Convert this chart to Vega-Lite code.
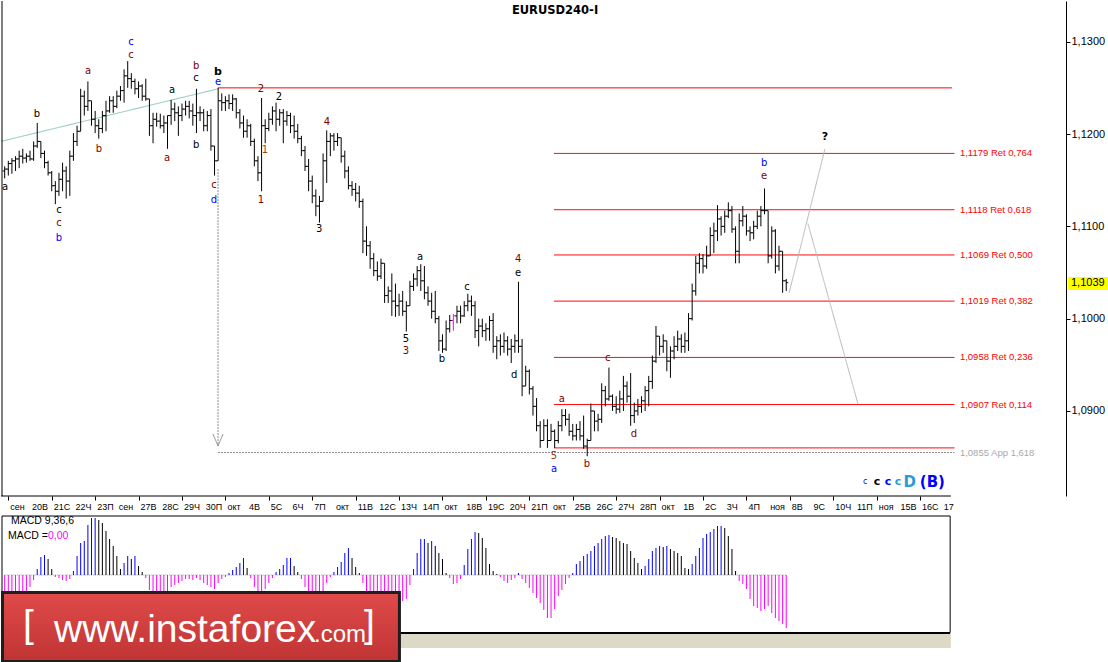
{
"$schema":"https://vega.github.io/schema/vega-lite/v6.json",
"background":"#ffffff",
"padding":0,
"bounds":"flush",
"spacing":20,
"config":{"view":{"stroke":null},"font":"Liberation Sans"},
"datasets":{
"bars":[
{"n":-1,"o":1.1160,"h":1.1165,"l":1.1152,"c":1.1162,"m":-0.0011,"d":"g"},
{"n":0,"o":1.1162,"h":1.1171,"l":1.1155,"c":1.1168,"m":-0.001,"d":"g"},
{"n":1,"o":1.1168,"h":1.1174,"l":1.1157,"c":1.1171,"m":-0.001,"d":"g"},
{"n":2,"o":1.1171,"h":1.1176,"l":1.1160,"c":1.1173,"m":-0.0009,"d":"g"},
{"n":3,"o":1.1173,"h":1.1182,"l":1.1163,"c":1.1176,"m":-0.00085,"d":"g"},
{"n":4,"o":1.1176,"h":1.1184,"l":1.1168,"c":1.1174,"m":-0.0008,"d":"g"},
{"n":5,"o":1.1174,"h":1.1179,"l":1.1169,"c":1.1176,"m":-0.0008,"d":"g"},
{"n":6,"o":1.1176,"h":1.1182,"l":1.1171,"c":1.1173,"m":-0.0006,"d":"g"},
{"n":7,"o":1.1173,"h":1.1192,"l":1.1171,"c":1.1187,"m":-0.00025,"d":"g"},
{"n":8,"o":1.1187,"h":1.1212,"l":1.1185,"c":1.1192,"m":0.0003,"d":"u"},
{"n":9,"o":1.1192,"h":1.1192,"l":1.1174,"c":1.1179,"m":0.0009,"d":"u"},
{"n":10,"o":1.1179,"h":1.1182,"l":1.1163,"c":1.1169,"m":0.001,"d":"u"},
{"n":11,"o":1.1169,"h":1.1171,"l":1.1155,"c":1.1158,"m":0.0008,"d":"w"},
{"n":12,"o":1.1158,"h":1.1160,"l":1.1138,"c":1.1144,"m":0.0003,"d":"w"},
{"n":13,"o":1.1144,"h":1.1149,"l":1.1124,"c":1.1138,"m":-0.0001,"d":"g"},
{"n":14,"o":1.1138,"h":1.1158,"l":1.1133,"c":1.1151,"m":-0.00015,"d":"g"},
{"n":15,"o":1.1151,"h":1.1169,"l":1.1138,"c":1.1160,"m":-0.00025,"d":"g"},
{"n":16,"o":1.1160,"h":1.1165,"l":1.1130,"c":1.1149,"m":-0.0003,"d":"g"},
{"n":17,"o":1.1149,"h":1.1182,"l":1.1133,"c":1.1176,"m":-0.0002,"d":"g"},
{"n":18,"o":1.1176,"h":1.1201,"l":1.1171,"c":1.1192,"m":0.0002,"d":"u"},
{"n":19,"o":1.1192,"h":1.1209,"l":1.1187,"c":1.1203,"m":0.00095,"d":"u"},
{"n":20,"o":1.1203,"h":1.1249,"l":1.1203,"c":1.1241,"m":0.0016,"d":"u"},
{"n":21,"o":1.1241,"h":1.1247,"l":1.1220,"c":1.1230,"m":0.0017,"d":"u"},
{"n":22,"o":1.1230,"h":1.1257,"l":1.1225,"c":1.1236,"m":0.0025,"d":"u"},
{"n":23,"o":1.1236,"h":1.1236,"l":1.1209,"c":1.1216,"m":0.00285,"d":"u"},
{"n":24,"o":1.1216,"h":1.1225,"l":1.1201,"c":1.1209,"m":0.00285,"d":"u"},
{"n":25,"o":1.1209,"h":1.1216,"l":1.1195,"c":1.1206,"m":0.00275,"d":"w"},
{"n":26,"o":1.1206,"h":1.1225,"l":1.1201,"c":1.1220,"m":0.0026,"d":"w"},
{"n":27,"o":1.1220,"h":1.1236,"l":1.1203,"c":1.1225,"m":0.0022,"d":"w"},
{"n":28,"o":1.1225,"h":1.1241,"l":1.1223,"c":1.1236,"m":0.0018,"d":"w"},
{"n":29,"o":1.1236,"h":1.1241,"l":1.1223,"c":1.1230,"m":0.00145,"d":"w"},
{"n":30,"o":1.1230,"h":1.1247,"l":1.1228,"c":1.1241,"m":0.00095,"d":"w"},
{"n":31,"o":1.1241,"h":1.1252,"l":1.1236,"c":1.1247,"m":0.0003,"d":"w"},
{"n":32,"o":1.1247,"h":1.1270,"l":1.1234,"c":1.1263,"m":0.0006,"d":"u"},
{"n":33,"o":1.1263,"h":1.1279,"l":1.1250,"c":1.1260,"m":0.00095,"d":"u"},
{"n":34,"o":1.1260,"h":1.1266,"l":1.1249,"c":1.1257,"m":0.0008,"d":"w"},
{"n":35,"o":1.1257,"h":1.1260,"l":1.1243,"c":1.1249,"m":0.00095,"d":"u"},
{"n":36,"o":1.1249,"h":1.1257,"l":1.1239,"c":1.1252,"m":0.00045,"d":"w"},
{"n":37,"o":1.1252,"h":1.1254,"l":1.1236,"c":1.1241,"m":0.00015,"d":"w"},
{"n":38,"o":1.1241,"h":1.1260,"l":1.1236,"c":1.1238,"m":-0.00015,"d":"g"},
{"n":39,"o":1.1238,"h":1.1238,"l":1.1198,"c":1.1209,"m":-0.00075,"d":"g"},
{"n":40,"o":1.1209,"h":1.1223,"l":1.1190,"c":1.1216,"m":-0.0011,"d":"g"},
{"n":41,"o":1.1216,"h":1.1223,"l":1.1208,"c":1.1214,"m":-0.0012,"d":"g"},
{"n":42,"o":1.1214,"h":1.1222,"l":1.1206,"c":1.1209,"m":-0.0011,"d":"g"},
{"n":43,"o":1.1209,"h":1.1220,"l":1.1201,"c":1.1212,"m":-0.001,"d":"g"},
{"n":44,"o":1.1212,"h":1.1220,"l":1.1184,"c":1.1220,"m":-0.0009,"d":"g"},
{"n":45,"o":1.1220,"h":1.1237,"l":1.1210,"c":1.1227,"m":-0.0006,"d":"g"},
{"n":46,"o":1.1227,"h":1.1234,"l":1.1214,"c":1.1223,"m":-0.0005,"d":"g"},
{"n":47,"o":1.1223,"h":1.1230,"l":1.1198,"c":1.1220,"m":-0.0004,"d":"g"},
{"n":48,"o":1.1220,"h":1.1233,"l":1.1214,"c":1.1227,"m":-0.0003,"d":"g"},
{"n":49,"o":1.1227,"h":1.1236,"l":1.1220,"c":1.1230,"m":-0.0002,"d":"g"},
{"n":50,"o":1.1230,"h":1.1236,"l":1.1217,"c":1.1225,"m":-0.0002,"d":"g"},
{"n":51,"o":1.1225,"h":1.1233,"l":1.1209,"c":1.1220,"m":-0.00025,"d":"g"},
{"n":52,"o":1.1220,"h":1.1249,"l":1.1201,"c":1.1223,"m":-0.00015,"d":"g"},
{"n":53,"o":1.1223,"h":1.1230,"l":1.1214,"c":1.1223,"m":-0.00025,"d":"g"},
{"n":54,"o":1.1223,"h":1.1227,"l":1.1203,"c":1.1209,"m":-0.0004,"d":"g"},
{"n":55,"o":1.1209,"h":1.1225,"l":1.1203,"c":1.1220,"m":-0.0005,"d":"g"},
{"n":56,"o":1.1220,"h":1.1227,"l":1.1182,"c":1.1187,"m":-0.0006,"d":"g"},
{"n":57,"o":1.1187,"h":1.1187,"l":1.1155,"c":1.1171,"m":-0.0007,"d":"g"},
{"n":58,"o":1.1171,"h":1.1250,"l":1.1171,"c":1.1236,"m":-0.0004,"d":"g"},
{"n":59,"o":1.1236,"h":1.1244,"l":1.1225,"c":1.1234,"m":-0.0002,"d":"g"},
{"n":60,"o":1.1234,"h":1.1241,"l":1.1225,"c":1.1236,"m":-0.0001,"d":"g"},
{"n":61,"o":1.1236,"h":1.1243,"l":1.1227,"c":1.1233,"m":0.0001,"d":"u"},
{"n":62,"o":1.1233,"h":1.1243,"l":1.1225,"c":1.1238,"m":0.00025,"d":"u"},
{"n":63,"o":1.1238,"h":1.1239,"l":1.1217,"c":1.1223,"m":0.0004,"d":"u"},
{"n":64,"o":1.1223,"h":1.1227,"l":1.1206,"c":1.1212,"m":0.0006,"d":"u"},
{"n":65,"o":1.1212,"h":1.1220,"l":1.1196,"c":1.1203,"m":0.00085,"d":"u"},
{"n":66,"o":1.1203,"h":1.1216,"l":1.1196,"c":1.1209,"m":0.00035,"d":"w"},
{"n":67,"o":1.1209,"h":1.1211,"l":1.1187,"c":1.1192,"m":-0.00015,"d":"g"},
{"n":68,"o":1.1192,"h":1.1195,"l":1.1165,"c":1.1171,"m":-0.0006,"d":"g"},
{"n":69,"o":1.1171,"h":1.1176,"l":1.1149,"c":1.1158,"m":-0.0009,"d":"g"},
{"n":70,"o":1.1158,"h":1.1239,"l":1.1138,"c":1.1209,"m":-0.0008,"d":"g"},
{"n":71,"o":1.1209,"h":1.1216,"l":1.1190,"c":1.1206,"m":-0.0007,"d":"g"},
{"n":72,"o":1.1206,"h":1.1223,"l":1.1203,"c":1.1216,"m":-0.0004,"d":"g"},
{"n":73,"o":1.1216,"h":1.1230,"l":1.1210,"c":1.1225,"m":-0.00015,"d":"g"},
{"n":74,"o":1.1225,"h":1.1234,"l":1.1203,"c":1.1216,"m":0.00015,"d":"u"},
{"n":75,"o":1.1216,"h":1.1227,"l":1.1209,"c":1.1223,"m":0.0003,"d":"u"},
{"n":76,"o":1.1223,"h":1.1227,"l":1.1190,"c":1.1214,"m":0.0005,"d":"u"},
{"n":77,"o":1.1214,"h":1.1225,"l":1.1209,"c":1.1220,"m":0.00085,"d":"u"},
{"n":78,"o":1.1220,"h":1.1223,"l":1.1201,"c":1.1209,"m":0.00085,"d":"u"},
{"n":79,"o":1.1209,"h":1.1220,"l":1.1195,"c":1.1203,"m":0.00045,"d":"w"},
{"n":80,"o":1.1203,"h":1.1211,"l":1.1190,"c":1.1195,"m":0.00015,"d":"w"},
{"n":81,"o":1.1195,"h":1.1198,"l":1.1176,"c":1.1182,"m":-0.0002,"d":"g"},
{"n":82,"o":1.1182,"h":1.1187,"l":1.1160,"c":1.1165,"m":-0.0006,"d":"g"},
{"n":83,"o":1.1165,"h":1.1173,"l":1.1138,"c":1.1149,"m":-0.0009,"d":"g"},
{"n":84,"o":1.1149,"h":1.1155,"l":1.1125,"c":1.1133,"m":-0.00125,"d":"g"},
{"n":85,"o":1.1133,"h":1.1140,"l":1.1111,"c":1.1122,"m":-0.0015,"d":"g"},
{"n":86,"o":1.1122,"h":1.1133,"l":1.1104,"c":1.1127,"m":-0.0014,"d":"g"},
{"n":87,"o":1.1127,"h":1.1179,"l":1.1127,"c":1.1171,"m":-0.0009,"d":"g"},
{"n":88,"o":1.1171,"h":1.1204,"l":1.1147,"c":1.1192,"m":-0.0004,"d":"g"},
{"n":89,"o":1.1192,"h":1.1201,"l":1.1176,"c":1.1198,"m":-0.0001,"d":"g"},
{"n":90,"o":1.1198,"h":1.1201,"l":1.1182,"c":1.1192,"m":0.00015,"d":"u"},
{"n":91,"o":1.1192,"h":1.1201,"l":1.1187,"c":1.1196,"m":0.0004,"d":"u"},
{"n":92,"o":1.1196,"h":1.1196,"l":1.1169,"c":1.1176,"m":0.00065,"d":"u"},
{"n":93,"o":1.1176,"h":1.1182,"l":1.1152,"c":1.1160,"m":0.0011,"d":"u"},
{"n":94,"o":1.1160,"h":1.1165,"l":1.1140,"c":1.1144,"m":0.00135,"d":"u"},
{"n":95,"o":1.1144,"h":1.1149,"l":1.1133,"c":1.1140,"m":0.00085,"d":"w"},
{"n":96,"o":1.1140,"h":1.1147,"l":1.1127,"c":1.1136,"m":0.0004,"d":"w"},
{"n":97,"o":1.1136,"h":1.1144,"l":1.1120,"c":1.1127,"m":0.0001,"d":"w"},
{"n":98,"o":1.1127,"h":1.1130,"l":1.1071,"c":1.1084,"m":-0.0004,"d":"g"},
{"n":99,"o":1.1084,"h":1.1100,"l":1.1068,"c":1.1079,"m":-0.0009,"d":"g"},
{"n":100,"o":1.1079,"h":1.1084,"l":1.1054,"c":1.1065,"m":-0.00125,"d":"g"},
{"n":101,"o":1.1065,"h":1.1071,"l":1.1046,"c":1.1052,"m":-0.0015,"d":"g"},
{"n":102,"o":1.1052,"h":1.1062,"l":1.1041,"c":1.1046,"m":-0.00165,"d":"g"},
{"n":103,"o":1.1046,"h":1.1065,"l":1.1043,"c":1.1060,"m":-0.0017,"d":"g"},
{"n":104,"o":1.1060,"h":1.1060,"l":1.1017,"c":1.1025,"m":-0.0018,"d":"g"},
{"n":105,"o":1.1025,"h":1.1035,"l":1.1017,"c":1.1030,"m":-0.00175,"d":"g"},
{"n":106,"o":1.1030,"h":1.1049,"l":1.1003,"c":1.1019,"m":-0.00165,"d":"g"},
{"n":107,"o":1.1019,"h":1.1038,"l":1.1002,"c":1.1014,"m":-0.0015,"d":"g"},
{"n":108,"o":1.1014,"h":1.1027,"l":1.1003,"c":1.1019,"m":-0.0014,"d":"g"},
{"n":109,"o":1.1019,"h":1.1030,"l":1.1003,"c":1.1008,"m":-0.0013,"d":"g"},
{"n":110,"o":1.1008,"h":1.1019,"l":1.0986,"c":1.1014,"m":-0.0012,"d":"g"},
{"n":111,"o":1.1014,"h":1.1041,"l":1.1014,"c":1.1035,"m":-0.0005,"d":"g"},
{"n":112,"o":1.1035,"h":1.1049,"l":1.1030,"c":1.1043,"m":0.0003,"d":"u"},
{"n":113,"o":1.1043,"h":1.1057,"l":1.1035,"c":1.1052,"m":0.0011,"d":"u"},
{"n":114,"o":1.1052,"h":1.1059,"l":1.1030,"c":1.1041,"m":0.0018,"d":"u"},
{"n":115,"o":1.1041,"h":1.1057,"l":1.1021,"c":1.1028,"m":0.0018,"d":"u"},
{"n":116,"o":1.1028,"h":1.1035,"l":1.1014,"c":1.1019,"m":0.0016,"d":"w"},
{"n":117,"o":1.1019,"h":1.1028,"l":1.1000,"c":1.1008,"m":0.0017,"d":"u"},
{"n":118,"o":1.1008,"h":1.1030,"l":1.0995,"c":1.1000,"m":0.00145,"d":"w"},
{"n":119,"o":1.1000,"h":1.1003,"l":1.0965,"c":1.0976,"m":0.0011,"d":"w"},
{"n":120,"o":1.0976,"h":1.0983,"l":1.0963,"c":1.0967,"m":0.0008,"d":"w"},
{"n":121,"o":1.0967,"h":1.0998,"l":1.0965,"c":1.0989,"m":0.0001,"d":"w"},
{"n":122,"o":1.0989,"h":1.1004,"l":1.0985,"c":1.0998,"m":-0.00015,"d":"g"},
{"n":123,"o":1.0998,"h":1.1005,"l":1.0987,"c":1.1003,"m":-0.00045,"d":"g","mg":1},
{"n":124,"o":1.1003,"h":1.1014,"l":1.0995,"c":1.1008,"m":-0.0004,"d":"g"},
{"n":125,"o":1.1008,"h":1.1014,"l":1.0995,"c":1.1003,"m":-0.0002,"d":"g"},
{"n":126,"o":1.1003,"h":1.1019,"l":1.1002,"c":1.1014,"m":0.0005,"d":"u"},
{"n":127,"o":1.1014,"h":1.1027,"l":1.1008,"c":1.1019,"m":0.0013,"d":"u"},
{"n":128,"o":1.1019,"h":1.1025,"l":1.1003,"c":1.1014,"m":0.0018,"d":"u"},
{"n":129,"o":1.1014,"h":1.1019,"l":1.0979,"c":1.0987,"m":0.00215,"d":"u"},
{"n":130,"o":1.0987,"h":1.1000,"l":1.0970,"c":1.0992,"m":0.0021,"d":"w"},
{"n":131,"o":1.0992,"h":1.1000,"l":1.0980,"c":1.0987,"m":0.00185,"d":"w"},
{"n":132,"o":1.0987,"h":1.0995,"l":1.0976,"c":1.0989,"m":0.00135,"d":"w"},
{"n":133,"o":1.0989,"h":1.1003,"l":1.0976,"c":1.0998,"m":0.00055,"d":"w"},
{"n":134,"o":1.0998,"h":1.1006,"l":1.0963,"c":1.0970,"m":0.0002,"d":"w"},
{"n":135,"o":1.0970,"h":1.0981,"l":1.0956,"c":1.0976,"m":0.00005,"d":"w"},
{"n":136,"o":1.0976,"h":1.0983,"l":1.0960,"c":1.0970,"m":-0.0001,"d":"g"},
{"n":137,"o":1.0970,"h":1.0985,"l":1.0963,"c":1.0976,"m":-0.0003,"d":"g"},
{"n":138,"o":1.0976,"h":1.0981,"l":1.0960,"c":1.0967,"m":-0.0004,"d":"g"},
{"n":139,"o":1.0967,"h":1.0978,"l":1.0952,"c":1.0970,"m":-0.00025,"d":"g"},
{"n":140,"o":1.0970,"h":1.0983,"l":1.0963,"c":1.0976,"m":-0.00015,"d":"g"},
{"n":141,"o":1.0976,"h":1.1040,"l":1.0963,"c":1.0970,"m":0.0001,"d":"u"},
{"n":142,"o":1.0970,"h":1.0978,"l":1.0916,"c":1.0927,"m":-0.0002,"d":"g"},
{"n":143,"o":1.0927,"h":1.0949,"l":1.0927,"c":1.0943,"m":-0.0004,"d":"g"},
{"n":144,"o":1.0943,"h":1.0945,"l":1.0918,"c":1.0924,"m":-0.00065,"d":"g"},
{"n":145,"o":1.0924,"h":1.0927,"l":1.0895,"c":1.0905,"m":-0.0009,"d":"g"},
{"n":146,"o":1.0905,"h":1.0914,"l":1.0878,"c":1.0884,"m":-0.00115,"d":"g"},
{"n":147,"o":1.0884,"h":1.0889,"l":1.0860,"c":1.0868,"m":-0.0014,"d":"g"},
{"n":148,"o":1.0868,"h":1.0891,"l":1.0868,"c":1.0884,"m":-0.00175,"d":"g"},
{"n":149,"o":1.0884,"h":1.0891,"l":1.0860,"c":1.0868,"m":-0.00215,"d":"g"},
{"n":150,"o":1.0868,"h":1.0886,"l":1.0868,"c":1.0878,"m":-0.00215,"d":"g"},
{"n":151,"o":1.0878,"h":1.0880,"l":1.0860,"c":1.0868,"m":-0.0017,"d":"g"},
{"n":152,"o":1.0868,"h":1.0889,"l":1.0865,"c":1.0884,"m":-0.00105,"d":"g"},
{"n":153,"o":1.0884,"h":1.0902,"l":1.0878,"c":1.0895,"m":-0.00075,"d":"g"},
{"n":154,"o":1.0895,"h":1.0902,"l":1.0884,"c":1.0891,"m":-0.00045,"d":"g"},
{"n":155,"o":1.0891,"h":1.0897,"l":1.0873,"c":1.0878,"m":-0.00015,"d":"g"},
{"n":156,"o":1.0878,"h":1.0886,"l":1.0868,"c":1.0873,"m":0.0001,"d":"u"},
{"n":157,"o":1.0873,"h":1.0886,"l":1.0868,"c":1.0880,"m":0.00055,"d":"u"},
{"n":158,"o":1.0880,"h":1.0889,"l":1.0868,"c":1.0873,"m":0.0007,"d":"u"},
{"n":159,"o":1.0873,"h":1.0895,"l":1.0859,"c":1.0862,"m":0.00095,"d":"u"},
{"n":160,"o":1.0862,"h":1.0870,"l":1.0851,"c":1.0868,"m":0.00105,"d":"u"},
{"n":161,"o":1.0868,"h":1.0908,"l":1.0868,"c":1.0900,"m":0.0012,"d":"u"},
{"n":162,"o":1.0900,"h":1.0900,"l":1.0878,"c":1.0889,"m":0.00145,"d":"u"},
{"n":163,"o":1.0889,"h":1.0897,"l":1.0878,"c":1.0891,"m":0.0016,"d":"u"},
{"n":164,"o":1.0891,"h":1.0930,"l":1.0887,"c":1.0922,"m":0.0018,"d":"u"},
{"n":165,"o":1.0922,"h":1.0927,"l":1.0905,"c":1.0913,"m":0.00195,"d":"u"},
{"n":166,"o":1.0913,"h":1.0947,"l":1.0911,"c":1.0916,"m":0.002,"d":"u"},
{"n":167,"o":1.0916,"h":1.0918,"l":1.0900,"c":1.0905,"m":0.0019,"d":"w"},
{"n":168,"o":1.0905,"h":1.0916,"l":1.0897,"c":1.0902,"m":0.00185,"d":"w"},
{"n":169,"o":1.0902,"h":1.0922,"l":1.0898,"c":1.0913,"m":0.0017,"d":"w"},
{"n":170,"o":1.0913,"h":1.0938,"l":1.0900,"c":1.0927,"m":0.0016,"d":"w"},
{"n":171,"o":1.0927,"h":1.0932,"l":1.0909,"c":1.0916,"m":0.00155,"d":"w"},
{"n":172,"o":1.0916,"h":1.0941,"l":1.0884,"c":1.0895,"m":0.0012,"d":"w"},
{"n":173,"o":1.0895,"h":1.0909,"l":1.0887,"c":1.0900,"m":0.00085,"d":"w"},
{"n":174,"o":1.0900,"h":1.0913,"l":1.0895,"c":1.0905,"m":0.0006,"d":"w"},
{"n":175,"o":1.0905,"h":1.0916,"l":1.0898,"c":1.0911,"m":0.0003,"d":"w"},
{"n":176,"o":1.0911,"h":1.0927,"l":1.0900,"c":1.0922,"m":0.00045,"d":"u"},
{"n":177,"o":1.0922,"h":1.0938,"l":1.0905,"c":1.0932,"m":0.0008,"d":"u"},
{"n":178,"o":1.0932,"h":1.0960,"l":1.0924,"c":1.0954,"m":0.0012,"d":"u"},
{"n":179,"o":1.0954,"h":1.0992,"l":1.0952,"c":1.0981,"m":0.00135,"d":"u"},
{"n":180,"o":1.0981,"h":1.0981,"l":1.0960,"c":1.0970,"m":0.00145,"d":"u"},
{"n":181,"o":1.0970,"h":1.0983,"l":1.0963,"c":1.0976,"m":0.0014,"d":"w"},
{"n":182,"o":1.0976,"h":1.0976,"l":1.0943,"c":1.0954,"m":0.00145,"d":"u"},
{"n":183,"o":1.0954,"h":1.0970,"l":1.0936,"c":1.0965,"m":0.0013,"d":"w"},
{"n":184,"o":1.0965,"h":1.0981,"l":1.0956,"c":1.0970,"m":0.0012,"d":"w"},
{"n":185,"o":1.0970,"h":1.0987,"l":1.0965,"c":1.0978,"m":0.0011,"d":"w"},
{"n":186,"o":1.0978,"h":1.0983,"l":1.0963,"c":1.0970,"m":0.00095,"d":"w"},
{"n":187,"o":1.0970,"h":1.0985,"l":1.0963,"c":1.0976,"m":0.00035,"d":"w"},
{"n":188,"o":1.0976,"h":1.1006,"l":1.0965,"c":1.1000,"m":0.0003,"d":"w"},
{"n":189,"o":1.1000,"h":1.1038,"l":1.0998,"c":1.1030,"m":0.00055,"d":"u"},
{"n":190,"o":1.1030,"h":1.1068,"l":1.1025,"c":1.1060,"m":0.00095,"d":"u"},
{"n":191,"o":1.1060,"h":1.1071,"l":1.1049,"c":1.1065,"m":0.00135,"d":"u"},
{"n":192,"o":1.1065,"h":1.1070,"l":1.1049,"c":1.1057,"m":0.00185,"d":"u"},
{"n":193,"o":1.1057,"h":1.1079,"l":1.1054,"c":1.1068,"m":0.00205,"d":"u"},
{"n":194,"o":1.1068,"h":1.1099,"l":1.1068,"c":1.1090,"m":0.00215,"d":"u"},
{"n":195,"o":1.1090,"h":1.1104,"l":1.1071,"c":1.1095,"m":0.0023,"d":"u"},
{"n":196,"o":1.1095,"h":1.1123,"l":1.1084,"c":1.1108,"m":0.00245,"d":"u"},
{"n":197,"o":1.1108,"h":1.1111,"l":1.1090,"c":1.1100,"m":0.00245,"d":"u"},
{"n":198,"o":1.1100,"h":1.1117,"l":1.1093,"c":1.1111,"m":0.00235,"d":"w"},
{"n":199,"o":1.1111,"h":1.1126,"l":1.1109,"c":1.1117,"m":0.00195,"d":"w"},
{"n":200,"o":1.1117,"h":1.1122,"l":1.1093,"c":1.1097,"m":0.0013,"d":"w"},
{"n":201,"o":1.1097,"h":1.1100,"l":1.1060,"c":1.1073,"m":0.0002,"d":"w"},
{"n":202,"o":1.1073,"h":1.1114,"l":1.1060,"c":1.1106,"m":-0.0003,"d":"g"},
{"n":203,"o":1.1106,"h":1.1122,"l":1.1100,"c":1.1111,"m":-0.00045,"d":"g"},
{"n":204,"o":1.1111,"h":1.1113,"l":1.1090,"c":1.1095,"m":-0.0007,"d":"g"},
{"n":205,"o":1.1095,"h":1.1100,"l":1.1084,"c":1.1093,"m":-0.0012,"d":"g"},
{"n":206,"o":1.1093,"h":1.1106,"l":1.1086,"c":1.1100,"m":-0.00155,"d":"g"},
{"n":207,"o":1.1100,"h":1.1117,"l":1.1097,"c":1.1111,"m":-0.00165,"d":"g"},
{"n":208,"o":1.1111,"h":1.1122,"l":1.1100,"c":1.1117,"m":-0.0018,"d":"g"},
{"n":209,"o":1.1117,"h":1.1141,"l":1.1113,"c":1.1117,"m":-0.0017,"d":"g"},
{"n":210,"o":1.1117,"h":1.1117,"l":1.1060,"c":1.1068,"m":-0.00155,"d":"g"},
{"n":211,"o":1.1068,"h":1.1100,"l":1.1065,"c":1.1095,"m":-0.0019,"d":"g"},
{"n":212,"o":1.1095,"h":1.1097,"l":1.1049,"c":1.1057,"m":-0.00215,"d":"g"},
{"n":213,"o":1.1057,"h":1.1079,"l":1.1052,"c":1.1073,"m":-0.0023,"d":"g"},
{"n":214,"o":1.1073,"h":1.1073,"l":1.1028,"c":1.1041,"m":-0.00245,"d":"g"},
{"n":215,"o":1.1041,"h":1.1043,"l":1.1030,"c":1.1039,"m":-0.00265,"d":"g"}
],
"days":[
{"n":0,"t":"сен"},{"n":6,"t":"20В"},{"n":12,"t":"21С"},{"n":18,"t":"22Ч"},{"n":24,"t":"23П"},
{"n":30,"t":"сен"},{"n":36,"t":"27В"},{"n":42,"t":"28С"},{"n":48,"t":"29Ч"},{"n":54,"t":"30П"},
{"n":60,"t":"окт"},{"n":66,"t":"4В"},{"n":72,"t":"5С"},{"n":78,"t":"6Ч"},{"n":84,"t":"7П"},
{"n":90,"t":"окт"},{"n":96,"t":"11В"},{"n":102,"t":"12С"},{"n":108,"t":"13Ч"},{"n":114,"t":"14П"},
{"n":120,"t":"окт"},{"n":126,"t":"18В"},{"n":132,"t":"19С"},{"n":138,"t":"20Ч"},{"n":144,"t":"21П"},
{"n":150,"t":"окт"},{"n":156,"t":"25В"},{"n":162,"t":"26С"},{"n":168,"t":"27Ч"},{"n":174,"t":"28П"},
{"n":180,"t":"окт"},{"n":186,"t":"1В"},{"n":192,"t":"2С"},{"n":198,"t":"3Ч"},{"n":204,"t":"4П"},
{"n":210,"t":"ноя"},{"n":216,"t":"8В"},{"n":222,"t":"9С"},{"n":228,"t":"10Ч"},{"n":234,"t":"11П"},
{"n":240,"t":"ноя"},{"n":246,"t":"15В"},{"n":252,"t":"16С"},{"n":258,"t":"17"}
],
"lines":[
{"n":57.96,"n2":260.8,"p":1.125,"p2":1.125,"k":"r"},
{"n":150.8,"n2":261.5,"p":1.1179,"p2":1.1179,"k":"r"},
{"n":150.8,"n2":261.5,"p":1.1118,"p2":1.1118,"k":"r"},
{"n":150.8,"n2":261.5,"p":1.1069,"p2":1.1069,"k":"r"},
{"n":150.8,"n2":261.5,"p":1.1019,"p2":1.1019,"k":"r"},
{"n":150.8,"n2":261.5,"p":1.0958,"p2":1.0958,"k":"r"},
{"n":150.8,"n2":261.5,"p":1.0907,"p2":1.0907,"k":"r"},
{"n":150.8,"n2":261.5,"p":1.086,"p2":1.086,"k":"r"},
{"n":57.96,"n2":261.5,"p":1.0855,"p2":1.0855,"k":"d"},
{"n":57.96,"n2":57.96,"p":1.1162,"p2":1.0862,"k":"d"},
{"n":56.57,"n2":57.96,"p":1.0875,"p2":1.0862,"k":"a"},
{"n":59.34,"n2":57.96,"p":1.0875,"p2":1.0862,"k":"a"},
{"n":-2.018,"n2":57.96,"p":1.1192,"p2":1.1249,"k":"t"},
{"n":215.8,"n2":225.7,"p":1.1028,"p2":1.1184,"k":"f"},
{"n":221.0,"n2":234.8,"p":1.1103,"p2":1.0908,"k":"f"},
{"n":-1.741,"n2":-1.741,"p":1.13441,"p2":1.08079,"k":"k"},
{"n":-2.018,"n2":260.5,"p":1.08079,"p2":1.08079,"k":"k"}
],
"labels":[
{"n":-0.91,"p":1.1143,"t":"a","c":"k","g":"n"},
{"n":7.93,"p":1.1222,"t":"b","c":"k","g":"n"},
{"n":14.0,"p":1.1118,"t":"c","c":"k","g":"n"},
{"n":14.0,"p":1.1104,"t":"c","c":"r","g":"n"},
{"n":14.0,"p":1.1087,"t":"b","c":"b","g":"n"},
{"n":22.03,"p":1.1268,"t":"a","c":"r","g":"n"},
{"n":25.07,"p":1.1184,"t":"b","c":"r","g":"n"},
{"n":33.9,"p":1.13,"t":"c","c":"b","g":"n"},
{"n":33.9,"p":1.1286,"t":"c","c":"r","g":"n"},
{"n":43.86,"p":1.1174,"t":"a","c":"r","g":"n"},
{"n":45.24,"p":1.1248,"t":"a","c":"k","g":"n"},
{"n":51.9,"p":1.1274,"t":"b","c":"r","g":"n"},
{"n":51.9,"p":1.1261,"t":"c","c":"k","g":"n"},
{"n":51.9,"p":1.1188,"t":"b","c":"k","g":"n"},
{"n":57.96,"p":1.1267,"t":"b","c":"k","g":"B"},
{"n":57.96,"p":1.1256,"t":"e","c":"b","g":"n"},
{"n":56.85,"p":1.1145,"t":"c","c":"r","g":"n"},
{"n":56.85,"p":1.1129,"t":"d","c":"b","g":"n"},
{"n":69.84,"p":1.1249,"t":"2","c":"r","g":"n"},
{"n":70.95,"p":1.1183,"t":"1","c":"o","g":"n"},
{"n":69.84,"p":1.1128,"t":"1","c":"r","g":"n"},
{"n":74.81,"p":1.124,"t":"2","c":"k","g":"n"},
{"n":85.9,"p":1.1097,"t":"3","c":"k","g":"n"},
{"n":88.08,"p":1.1213,"t":"4","c":"r","g":"n"},
{"n":113.8,"p":1.1067,"t":"a","c":"k","g":"n"},
{"n":109.9,"p":1.0978,"t":"5","c":"k","g":"n"},
{"n":109.9,"p":1.0965,"t":"3","c":"r","g":"n"},
{"n":119.86,"p":1.0956,"t":"b","c":"k","g":"n"},
{"n":126.8,"p":1.1034,"t":"c","c":"k","g":"n"},
{"n":140.9,"p":1.1065,"t":"4","c":"r","g":"n"},
{"n":140.9,"p":1.105,"t":"e","c":"k","g":"n"},
{"n":139.8,"p":1.0939,"t":"d","c":"k","g":"n"},
{"n":153.0,"p":1.0913,"t":"a","c":"r","g":"n"},
{"n":150.8,"p":1.0851,"t":"5","c":"o","g":"n"},
{"n":150.8,"p":1.0837,"t":"a","c":"b","g":"n"},
{"n":159.9,"p":1.0843,"t":"b","c":"r","g":"n"},
{"n":165.7,"p":1.0957,"t":"c","c":"r","g":"n"},
{"n":172.9,"p":1.0875,"t":"d","c":"r","g":"n"},
{"n":208.9,"p":1.1169,"t":"b","c":"b","g":"n"},
{"n":208.9,"p":1.1155,"t":"e","c":"r","g":"n"},
{"n":225.7,"p":1.1197,"t":"?","c":"k","g":"B"},
{"n":236.8,"p":1.0823,"t":"c","c":"b","g":"s"},
{"n":240.1,"p":1.0823,"t":"c","c":"k","g":"M"},
{"n":243.1,"p":1.0823,"t":"c","c":"b","g":"M"},
{"n":245.9,"p":1.0823,"t":"c","c":"t","g":"M"},
{"n":249.1,"p":1.0823,"t":"D","c":"t","g":"L"},
{"n":255.4,"p":1.0823,"t":"(B)","c":"b","g":"L"}
],
"fib":[
{"n":263.0,"p":1.1179,"t":"1,1179 Ret 0,764","c":"r"},
{"n":263.0,"p":1.1118,"t":"1,1118 Ret 0,618","c":"r"},
{"n":263.0,"p":1.1069,"t":"1,1069 Ret 0,500","c":"r"},
{"n":263.0,"p":1.1019,"t":"1,1019 Ret 0,382","c":"r"},
{"n":263.0,"p":1.0958,"t":"1,0958 Ret 0,236","c":"r"},
{"n":263.0,"p":1.0907,"t":"1,0907 Ret 0,114","c":"r"},
{"n":263.0,"p":1.0855,"t":"1,0855 App 1,618","c":"g"}
]
},
"vconcat":[
{"width":1065,"height":495,"layer":[
{"data":{"name":"bars"},"mark":{"type":"point","opacity":0},
 "encoding":{
  "x":{"field":"n","type":"quantitative","scale":{"domain":[-2.018,292.32],"nice":false,"zero":false},
   "axis":{"values":[0,6,12,18,24,30,36,42,48,54,60,66,72,78,84,90,96,102,108,114,120,126,132,138,144,150,156,162,168,174,180,186,192,198,204,210,216,222,228,234,240,246,252,258],
    "labels":false,"domain":false,"grid":false,"ticks":true,"tickSize":4,"tickColor":"#000000","title":null}},
  "y":{"field":"l","type":"quantitative","scale":{"domain":[1.08079,1.13441],"nice":false,"zero":false},
   "axis":{"orient":"right","values":[1.09,1.1,1.11,1.12,1.13],"format":".4f","labelExpr":"replace(datum.label,'.',',')","domain":true,"domainColor":"#000000","tickColor":"#000000","tickSize":4,"labelFontSize":11,"labelFont":"Liberation Sans","labelPadding":1,"labelColor":"#000000","title":null,"grid":false,"labelFlush":false,"labelOverlap":false}}
 }},
{"data":{"name":"days"},"mark":{"type":"text","align":"left","baseline":"middle","dx":2,"fontSize":9,"font":"Liberation Sans","color":"#000000"},
 "encoding":{
  "x":{"field":"n","type":"quantitative","scale":{"domain":[-2.018,292.32],"nice":false,"zero":false}},
  "y":{"datum":1.07965,"type":"quantitative","scale":{"domain":[1.08079,1.13441],"nice":false,"zero":false}},
  "text":{"field":"t"}
 }},
{"data":{"name":"lines"},"mark":{"type":"rule","strokeWidth":1},
 "encoding":{
  "x":{"field":"n","type":"quantitative","scale":{"domain":[-2.018,292.32],"nice":false,"zero":false}},
  "x2":{"field":"n2"},
  "y":{"field":"p","type":"quantitative","scale":{"domain":[1.08079,1.13441],"nice":false,"zero":false}},
  "y2":{"field":"p2"},
  "color":{"condition":[{"test":"datum.k==='r'","value":"#ff0000"},{"test":"datum.k==='d'||datum.k==='a'","value":"#8c8c8c"},{"test":"datum.k==='t'","value":"#80c6b6"},{"test":"datum.k==='f'","value":"#b8b8b8"}],"value":"#000000"},
  "strokeDash":{"condition":{"test":"datum.k==='d'","value":[2,1]},"value":[1,0]}
 }},
{"data":{"name":"bars"},"mark":{"type":"rule","strokeWidth":1},
 "encoding":{
  "x":{"field":"n","type":"quantitative","scale":{"domain":[-2.018,292.32],"nice":false,"zero":false}},
  "y":{"field":"l","type":"quantitative","scale":{"domain":[1.08079,1.13441],"nice":false,"zero":false}},
  "y2":{"field":"h"},
  "color":{"condition":{"test":"datum.mg===1","value":"#ff00ff"},"value":"#000000"}
 }},
{"data":{"name":"bars"},"mark":{"type":"rule","strokeWidth":1,"xOffset":-2,"x2Offset":0},
 "encoding":{
  "x":{"field":"n","type":"quantitative","scale":{"domain":[-2.018,292.32],"nice":false,"zero":false}},
  "x2":{"field":"n"},
  "y":{"field":"o","type":"quantitative","scale":{"domain":[1.08079,1.13441],"nice":false,"zero":false}},
  "color":{"condition":{"test":"datum.mg===1","value":"#ff00ff"},"value":"#000000"}
 }},
{"data":{"name":"bars"},"mark":{"type":"rule","strokeWidth":1,"xOffset":0,"x2Offset":2},
 "encoding":{
  "x":{"field":"n","type":"quantitative","scale":{"domain":[-2.018,292.32],"nice":false,"zero":false}},
  "x2":{"field":"n"},
  "y":{"field":"c","type":"quantitative","scale":{"domain":[1.08079,1.13441],"nice":false,"zero":false}},
  "color":{"condition":{"test":"datum.mg===1","value":"#ff00ff"},"value":"#000000"}
 }},
{"data":{"name":"labels"},"transform":[{"filter":"datum.g==='n'"}],"mark":{"type":"text","fontSize":10,"font":"DejaVu Sans"},
 "encoding":{
  "x":{"field":"n","type":"quantitative","scale":{"domain":[-2.018,292.32],"nice":false,"zero":false}},
  "y":{"field":"p","type":"quantitative","scale":{"domain":[1.08079,1.13441],"nice":false,"zero":false}},
  "text":{"field":"t"},
  "color":{"condition":[{"test":"datum.c==='r'","value":"#800000"},{"test":"datum.c==='b'","value":"#0000ff"},{"test":"datum.c==='o'","value":"#a04010"},{"test":"datum.c==='t'","value":"#2b9bd6"}],"value":"#000000"}
 }},
{"data":{"name":"labels"},"transform":[{"filter":"datum.g==='B'"}],"mark":{"type":"text","fontSize":11,"fontWeight":"bold","font":"DejaVu Sans"},
 "encoding":{
  "x":{"field":"n","type":"quantitative","scale":{"domain":[-2.018,292.32],"nice":false,"zero":false}},
  "y":{"field":"p","type":"quantitative","scale":{"domain":[1.08079,1.13441],"nice":false,"zero":false}},
  "text":{"field":"t"},
  "color":{"value":"#000000"}
 }},
{"data":{"name":"labels"},"transform":[{"filter":"datum.g==='s'"}],"mark":{"type":"text","fontSize":8,"font":"DejaVu Sans"},
 "encoding":{
  "x":{"field":"n","type":"quantitative","scale":{"domain":[-2.018,292.32],"nice":false,"zero":false}},
  "y":{"field":"p","type":"quantitative","scale":{"domain":[1.08079,1.13441],"nice":false,"zero":false}},
  "text":{"field":"t"},
  "color":{"value":"#0000ff"}
 }},
{"data":{"name":"labels"},"transform":[{"filter":"datum.g==='M'"}],"mark":{"type":"text","fontSize":11,"fontWeight":"bold","font":"DejaVu Sans"},
 "encoding":{
  "x":{"field":"n","type":"quantitative","scale":{"domain":[-2.018,292.32],"nice":false,"zero":false}},
  "y":{"field":"p","type":"quantitative","scale":{"domain":[1.08079,1.13441],"nice":false,"zero":false}},
  "text":{"field":"t"},
  "color":{"condition":[{"test":"datum.c==='b'","value":"#0000ff"},{"test":"datum.c==='t'","value":"#2b9bd6"}],"value":"#000000"}
 }},
{"data":{"name":"labels"},"transform":[{"filter":"datum.g==='L'"}],"mark":{"type":"text","fontSize":15,"fontWeight":"bold","font":"DejaVu Sans"},
 "encoding":{
  "x":{"field":"n","type":"quantitative","scale":{"domain":[-2.018,292.32],"nice":false,"zero":false}},
  "y":{"field":"p","type":"quantitative","scale":{"domain":[1.08079,1.13441],"nice":false,"zero":false}},
  "text":{"field":"t"},
  "color":{"condition":[{"test":"datum.c==='b'","value":"#0000ff"},{"test":"datum.c==='t'","value":"#2b9bd6"}],"value":"#000000"}
 }},
{"data":{"name":"fib"},"mark":{"type":"text","align":"left","fontSize":9.5,"font":"Liberation Sans"},
 "encoding":{
  "x":{"field":"n","type":"quantitative","scale":{"domain":[-2.018,292.32],"nice":false,"zero":false}},
  "y":{"field":"p","type":"quantitative","scale":{"domain":[1.08079,1.13441],"nice":false,"zero":false}},
  "text":{"field":"t"},
  "color":{"condition":{"test":"datum.c==='g'","value":"#a8a8a8"},"value":"#ff0000"}
 }},
{"data":{"values":[{"n":292.9,"n2":304.2,"p":1.1045,"p2":1.1031}]},"mark":{"type":"rect","fill":"#ffff00"},
 "encoding":{
  "x":{"field":"n","type":"quantitative","scale":{"domain":[-2.018,292.32],"nice":false,"zero":false}},
  "x2":{"field":"n2"},
  "y":{"field":"p","type":"quantitative","scale":{"domain":[1.08079,1.13441],"nice":false,"zero":false}},
  "y2":{"field":"p2"}
 }},
{"data":{"values":[{"n":293.7,"p":1.1039,"t":"1,1039"}]},"mark":{"type":"text","align":"left","fontSize":11,"font":"Liberation Sans","color":"#000000"},
 "encoding":{
  "x":{"field":"n","type":"quantitative","scale":{"domain":[-2.018,292.32],"nice":false,"zero":false}},
  "y":{"field":"p","type":"quantitative","scale":{"domain":[1.08079,1.13441],"nice":false,"zero":false}},
  "text":{"field":"t"}
 }},
{"data":{"values":[{"n":151.1,"p":1.1333,"t":"EURUSD240-I"}]},"mark":{"type":"text","fontSize":11.5,"fontWeight":"bold","font":"DejaVu Sans","color":"#000000"},
 "encoding":{
  "x":{"field":"n","type":"quantitative","scale":{"domain":[-2.018,292.32],"nice":false,"zero":false}},
  "y":{"field":"p","type":"quantitative","scale":{"domain":[1.08079,1.13441],"nice":false,"zero":false}},
  "text":{"field":"t"}
 }}
]},
{"width":1065,"height":147,"layer":[
{"data":{"values":[{"n":-2.018,"n2":260.5,"v":-0.00295,"v2":-0.00365}]},"mark":{"type":"rect","fill":"#dcdac6"},
 "encoding":{
  "x":{"field":"n","type":"quantitative","scale":{"domain":[-2.018,292.32],"nice":false,"zero":false},"axis":null},
  "x2":{"field":"n2"},
  "y":{"field":"v","type":"quantitative","scale":{"domain":[-0.0044,0.00295],"nice":false,"zero":false},"axis":null},
  "y2":{"field":"v2"}
 }},
{"data":{"values":[{"n":-1,"n2":215,"v":0}]},"mark":{"type":"rule","strokeWidth":1,"color":"#a0a0a0","strokeDash":[1,1]},
 "encoding":{
  "x":{"field":"n","type":"quantitative","scale":{"domain":[-2.018,292.32],"nice":false,"zero":false},"axis":null},
  "x2":{"field":"n2"},
  "y":{"field":"v","type":"quantitative","scale":{"domain":[-0.0044,0.00295],"nice":false,"zero":false},"axis":null}
 }},
{"data":{"name":"bars"},"mark":{"type":"rule","strokeWidth":1},
 "encoding":{
  "x":{"field":"n","type":"quantitative","scale":{"domain":[-2.018,292.32],"nice":false,"zero":false},"axis":null},
  "y":{"field":"m","type":"quantitative","scale":{"domain":[-0.0044,0.00295],"nice":false,"zero":false},"axis":null},
  "y2":{"datum":0},
  "color":{"condition":[{"test":"datum.d==='u'","value":"#0000ff"},{"test":"datum.d==='g'","value":"#ff00ff"}],"value":"#000000"}
 }},
{"data":{"values":[{"n":-1.741,"n2":260.3,"v":0.00295,"v2":-0.002875}]},"mark":{"type":"rect","fill":"transparent","stroke":"#000000","strokeWidth":1},
 "encoding":{
  "x":{"field":"n","type":"quantitative","scale":{"domain":[-2.018,292.32],"nice":false,"zero":false},"axis":null},
  "x2":{"field":"n2"},
  "y":{"field":"v","type":"quantitative","scale":{"domain":[-0.0044,0.00295],"nice":false,"zero":false},"axis":null},
  "y2":{"field":"v2"}
 }},
{"data":{"values":[{"n":-1.741,"n2":260.3,"v":-0.0029}]},"mark":{"type":"rule","strokeWidth":2,"color":"#000000"},
 "encoding":{
  "x":{"field":"n","type":"quantitative","scale":{"domain":[-2.018,292.32],"nice":false,"zero":false},"axis":null},
  "x2":{"field":"n2"},
  "y":{"field":"v","type":"quantitative","scale":{"domain":[-0.0044,0.00295],"nice":false,"zero":false},"axis":null}
 }},
{"data":{"values":[{"n":0.75,"v":0.0027,"t":"MACD 9,36,6","c":"k"},{"n":-0.08,"v":0.00195,"t":"MACD =","c":"k"},{"n":10.97,"v":0.00195,"t":"0,00","c":"m"}]},"mark":{"type":"text","align":"left","fontSize":10.5,"font":"Liberation Sans"},
 "encoding":{
  "x":{"field":"n","type":"quantitative","scale":{"domain":[-2.018,292.32],"nice":false,"zero":false},"axis":null},
  "y":{"field":"v","type":"quantitative","scale":{"domain":[-0.0044,0.00295],"nice":false,"zero":false},"axis":null},
  "text":{"field":"t"},
  "color":{"condition":{"test":"datum.c==='m'","value":"#ff00ff"},"value":"#000000"}
 }},
{"data":{"values":[{"n":-1.603,"n2":108.1,"v":-0.000875,"v2":-0.004325}]},"mark":{"type":"rect","stroke":"#1e1e1e","strokeWidth":3,
  "fill":{"gradient":"linear","x1":0,"y1":0,"x2":0,"y2":1,"stops":[{"offset":0,"color":"#e04a4a"},{"offset":1,"color":"#c03434"}]}},
 "encoding":{
  "x":{"field":"n","type":"quantitative","scale":{"domain":[-2.018,292.32],"nice":false,"zero":false},"axis":null},
  "x2":{"field":"n2"},
  "y":{"field":"v","type":"quantitative","scale":{"domain":[-0.0044,0.00295],"nice":false,"zero":false},"axis":null},
  "y2":{"field":"v2"}
 }},
{"data":{"values":[{"n":4.06,"v":-0.0031,"t":"["},{"n":12.63,"v":-0.00335,"t":"www.instaforex"},{"n":98.3,"v":-0.0031,"t":"]"}]},
 "mark":{"type":"text","align":"left","baseline":"alphabetic","fontSize":39,"font":"Liberation Sans","color":"#ffffff"},
 "encoding":{
  "x":{"field":"n","type":"quantitative","scale":{"domain":[-2.018,292.32],"nice":false,"zero":false},"axis":null},
  "y":{"field":"v","type":"quantitative","scale":{"domain":[-0.0044,0.00295],"nice":false,"zero":false},"axis":null},
  "text":{"field":"t"}
 }},
{"data":{"values":[{"n":84.5,"v":-0.00335,"t":".com"}]},
 "mark":{"type":"text","align":"left","baseline":"alphabetic","fontSize":24,"font":"Liberation Sans","color":"#ffffff"},
 "encoding":{
  "x":{"field":"n","type":"quantitative","scale":{"domain":[-2.018,292.32],"nice":false,"zero":false},"axis":null},
  "y":{"field":"v","type":"quantitative","scale":{"domain":[-0.0044,0.00295],"nice":false,"zero":false},"axis":null},
  "text":{"field":"t"}
 }}
]}
]
}
